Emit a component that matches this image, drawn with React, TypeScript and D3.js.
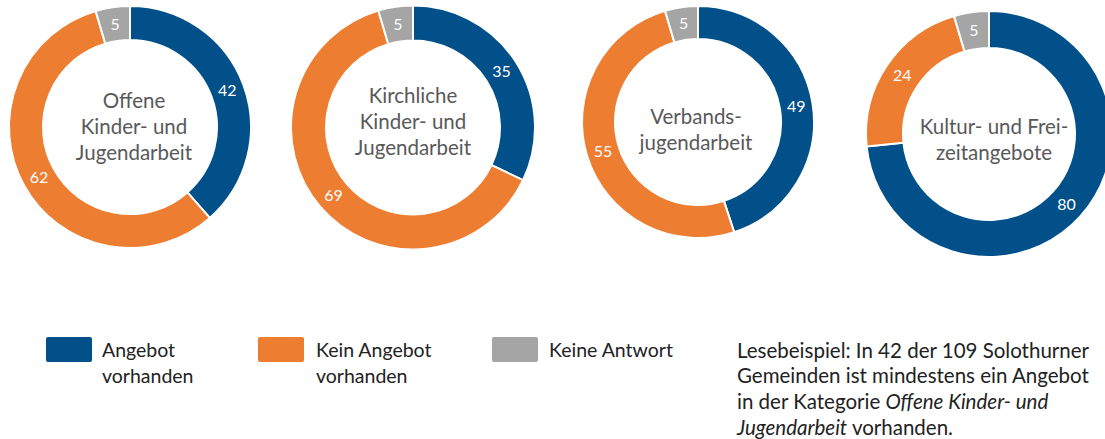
import React from "react";
import * as d3 from "d3";

const categories = [
  "Offene Kinder- und Jugendarbeit",
  "Kirchliche Kinder- und Jugendarbeit",
  "Verbandsjugendarbeit",
  "Kultur- und Freizeitangebote",
];
const centerLabels = [
  ["Offene", "Kinder- und", "Jugendarbeit"],
  ["Kirchliche", "Kinder- und", "Jugendarbeit"],
  ["Verbands-", "jugendarbeit"],
  ["Kultur- und Frei-", "zeitangebote"],
];
const angebot = [42, 35, 49, 80];
const keinAngebot = [62, 69, 55, 24];
const keineAntwort = [5, 5, 5, 5];
const seriesNames = [["Angebot", "vorhanden"], ["Kein Angebot", "vorhanden"], ["Keine Antwort"]];
const colors = ["#02508A", "#ED7D31", "#A5A5A5"];

// layout (positions & sizes)
const donutLayout = [
  { cx: 130, cy: 127, r: 121, ir: 87, tx: 134, ty: 127 },
  { cx: 413, cy: 127.5, r: 122, ir: 87, tx: 413, ty: 122 },
  { cx: 698, cy: 122, r: 116, ir: 83, tx: 696, ty: 130 },
  { cx: 989, cy: 134, r: 123, ir: 86, tx: 994, ty: 140 },
];
const legendLayout = [
  { x: 46, tx: 102 },
  { x: 258, tx: 316 },
  { x: 492, tx: 549 },
];

export default function App() {
  const font = "Lato, 'Open Sans', sans-serif";
  const pie = d3.pie<number>().sort(null).value((d) => d).startAngle(0).endAngle(2 * Math.PI);
  return (
    <svg width={1105} height={439} style={{ position: "absolute", left: 0, top: 0, background: "#fff" }} fontFamily={font}>
      {categories.map((cat, i) => {
        const L = donutLayout[i];
        const vals = [angebot[i], keinAngebot[i], keineAntwort[i]];
        const arcs = pie(vals);
        const arc = d3.arc<d3.PieArcDatum<number>>().innerRadius(L.ir).outerRadius(L.r);
        const lines = centerLabels[i];
        const lh = 26;
        return (
          <g key={cat} transform={`translate(${L.cx},${L.cy})`}>
            {arcs.map((a, j) => (
              <path key={j} d={arc(a) || ""} fill={colors[j]} stroke="#fff" strokeWidth={2} />
            ))}
            {arcs.map((a, j) => {
              const [x, y] = arc.centroid(a);
              return (
                <text key={"l" + j} x={x} y={y} dy="0.35em" textAnchor="middle" fill="#fff" fontSize={16}>
                  {vals[j]}
                </text>
              );
            })}
            {lines.map((t, k) => (
              <text
                key={"c" + k}
                x={L.tx - L.cx}
                y={L.ty - L.cy + (k - (lines.length - 1) / 2) * lh}
                dy="0.35em"
                textAnchor="middle"
                fill="#595959"
                fontSize={20.5}
              >
                {t}
              </text>
            ))}
          </g>
        );
      })}
      {seriesNames.map((s, i) => {
        const L = legendLayout[i];
        return (
          <g key={i}>
            <rect x={L.x} y={337} width={46} height={25} rx={2} fill={colors[i]} />
            {s.map((t, k) => (
              <text key={k} x={L.tx} y={350 + k * 26} dy="0.35em" fontSize={19.5} fill="#222">
                {t}
              </text>
            ))}
          </g>
        );
      })}
      <g fontSize={20.5} fill="#222">
        <text x={737} y={351} dy="0.35em">Lesebeispiel: In 42 der 109 Solothurner</text>
        <text x={737} y={376} dy="0.35em">Gemeinden ist mindestens ein Angebot</text>
        <text x={737} y={402} dy="0.35em">
          in der Kategorie <tspan fontStyle="italic">Offene Kinder- und</tspan>
        </text>
        <text x={737} y={428} dy="0.35em">
          <tspan fontStyle="italic">Jugendarbeit</tspan> vorhanden.
        </text>
      </g>
    </svg>
  );
}
